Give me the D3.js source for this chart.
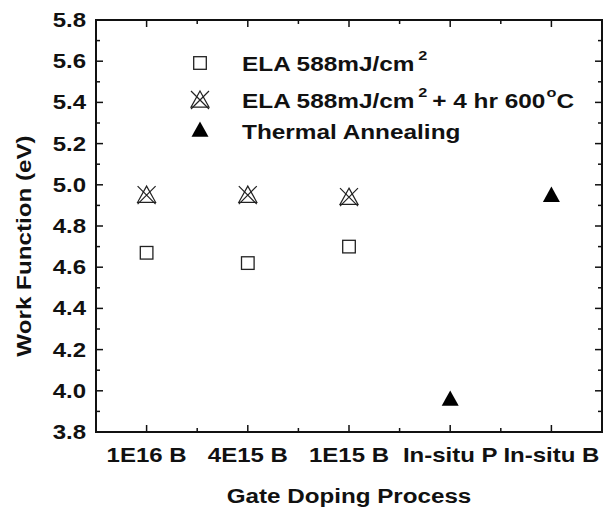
<!DOCTYPE html>
<html>
<head>
<meta charset="utf-8">
<script src="https://cdn.jsdelivr.net/npm/d3@7"></script>
<style>
  body { margin: 0; background: #fff; }
  text { font-family: "Liberation Sans", Arial, sans-serif; font-weight: bold; fill: #111; }
</style>
</head>
<body>
<script>
// chart data
var categories = ["1E16 B", "4E15 B", "1E15 B", "In-situ P", "In-situ B"];
var elaValues = [4.67, 4.62, 4.70, null, null];
var elaAnnealValues = [4.95, 4.95, 4.94, null, null];
var thermalValues = [null, null, null, 3.96, 4.95];
var yTicks = [3.8, 4.0, 4.2, 4.4, 4.6, 4.8, 5.0, 5.2, 5.4, 5.6, 5.8];
var legendLabels = ["ELA 588mJ/cm", "ELA 588mJ/cm", "Thermal Annealing"];

var width = 603, height = 513;
var margin = {top: 20, right: 1, bottom: 81, left: 96};

var svg = d3.select("body").append("svg")
    .attr("width", width)
    .attr("height", height);

var x = d3.scaleLinear().domain([0.5, 5.5]).range([margin.left, width - margin.right]);
var y = d3.scaleLinear().domain([3.8, 5.8]).range([height - margin.bottom, margin.top]);

// the original font is wider than Liberation, so stretch text along its run
var STRETCH = 1.2;

function label(parent, tx, ty, rot, anchor, size, sx, str) {
    var g = parent.append("g")
        .attr("transform", "translate(" + tx + "," + ty + ") rotate(" + rot + ") scale(" + sx + ",1)");
    var t = g.append("text")
        .attr("text-anchor", anchor)
        .style("font-size", size + "px");
    if (str !== undefined) t.text(str);
    return t;
}

var plot = svg.append("g");

// frame
plot.append("rect")
    .attr("x", x(0.5)).attr("y", y(5.8))
    .attr("width", x(5.5) - x(0.5))
    .attr("height", y(3.8) - y(5.8))
    .style("fill", "none").style("stroke", "#111").style("stroke-width", 2);

// ticks, all pointing inward
var xMajor = d3.range(1, 6);
var xMinor = d3.range(1.5, 5, 1);
var yMinor = d3.range(3.9, 5.8, 0.2);

function tickLines(g, vals, len, side) {
    g.selectAll(null).data(vals).enter().append("line")
        .attr("x1", function(d) { return side === "l" ? x(0.5) : side === "r" ? x(5.5) : x(d); })
        .attr("x2", function(d) { return side === "l" ? x(0.5) + len : side === "r" ? x(5.5) - len : x(d); })
        .attr("y1", function(d) { return side === "b" ? y(3.8) : side === "t" ? y(5.8) : y(d); })
        .attr("y2", function(d) { return side === "b" ? y(3.8) - len : side === "t" ? y(5.8) + len : y(d); })
        .style("stroke", "#111").style("stroke-width", 1.5);
}
var ticks = plot.append("g");
tickLines(ticks, xMajor, 7, "b");
tickLines(ticks, xMinor, 4, "b");
tickLines(ticks, xMajor, 7, "t");
tickLines(ticks, xMinor, 4, "t");
tickLines(ticks, yTicks.slice(1, -1), 7, "l");
tickLines(ticks, yMinor, 4, "l");
tickLines(ticks, yTicks.slice(1, -1), 7, "r");
tickLines(ticks, yMinor, 4, "r");

// tick labels
var texts = svg.append("g");
yTicks.forEach(function(d) {
    label(texts, 86, y(d) + 7, 0, "end", 20, STRETCH, d.toFixed(1));
});
categories.forEach(function(d, i) {
    label(texts, x(i + 1), 462, 0, "middle", 20, STRETCH, d);
});

// axis titles
label(texts, (x(0.5) + x(5.5)) / 2, 503, 0, "middle", 20, 1.21, "Gate Doping Process");
label(texts, 31, 246, -90, "middle", 20, 1.21, "Work Function (eV)");

// marker drawers
function drawSquare(g, cx, cy) {
    g.append("rect")
        .attr("x", cx - 6.3).attr("y", cy - 6.3)
        .attr("width", 12.6).attr("height", 12.6)
        .style("fill", "none").style("stroke", "#222").style("stroke-width", 1.3);
}
function drawCrossTri(g, cx, cy) {
    var s = 9;
    g.append("path")
        .attr("d", "M" + cx + "," + (cy - s) + "L" + (cx + s) + "," + (cy + s * 0.8) + "L" + (cx - s) + "," + (cy + s * 0.8) + "Z")
        .style("fill", "none").style("stroke", "#222").style("stroke-width", 1.2);
    g.append("path")
        .attr("d", "M" + (cx - s) + "," + (cy - s) + "L" + (cx + s) + "," + (cy + s) +
                   "M" + (cx + s) + "," + (cy - s) + "L" + (cx - s) + "," + (cy + s))
        .style("fill", "none").style("stroke", "#222").style("stroke-width", 1.2);
}
function drawTri(g, cx, cy) {
    var s = 8.5;
    g.append("path")
        .attr("d", "M" + cx + "," + (cy - s) + "L" + (cx + s) + "," + (cy + s * 0.8) + "L" + (cx - s) + "," + (cy + s * 0.8) + "Z")
        .style("fill", "#000");
}

var marks = svg.append("g");
elaValues.forEach(function(v, i) { if (v !== null) drawSquare(marks, x(i + 1), y(v)); });
elaAnnealValues.forEach(function(v, i) { if (v !== null) drawCrossTri(marks, x(i + 1), y(v)); });
thermalValues.forEach(function(v, i) { if (v !== null) drawTri(marks, x(i + 1), y(v)); });

// legend
var leg = svg.append("g");
drawSquare(leg, 200, 63);
drawCrossTri(leg, 200, 100);
drawTri(leg, 200, 130);

var LEG_STRETCH = 1.25;
var t1 = label(leg, 242, 71, 0, "start", 19.5, LEG_STRETCH);
t1.append("tspan").text(legendLabels[0]);
t1.append("tspan").attr("dx", 3).attr("dy", -11).style("font-size", "13px").text("2");

var t2 = label(leg, 242, 108, 0, "start", 19.5, LEG_STRETCH);
t2.append("tspan").text(legendLabels[1]);
t2.append("tspan").attr("dx", 3).attr("dy", -11).style("font-size", "13px").text("2");
t2.append("tspan").attr("dx", 4).attr("dy", 11).text("+ 4 hr 600");
t2.append("tspan").attr("dx", 1).attr("dy", -11).style("font-size", "13px").text("o");
t2.append("tspan").attr("dy", 11).text("C");

label(leg, 242, 139, 0, "start", 19.5, LEG_STRETCH, legendLabels[2]);
</script>
</body>
</html>
